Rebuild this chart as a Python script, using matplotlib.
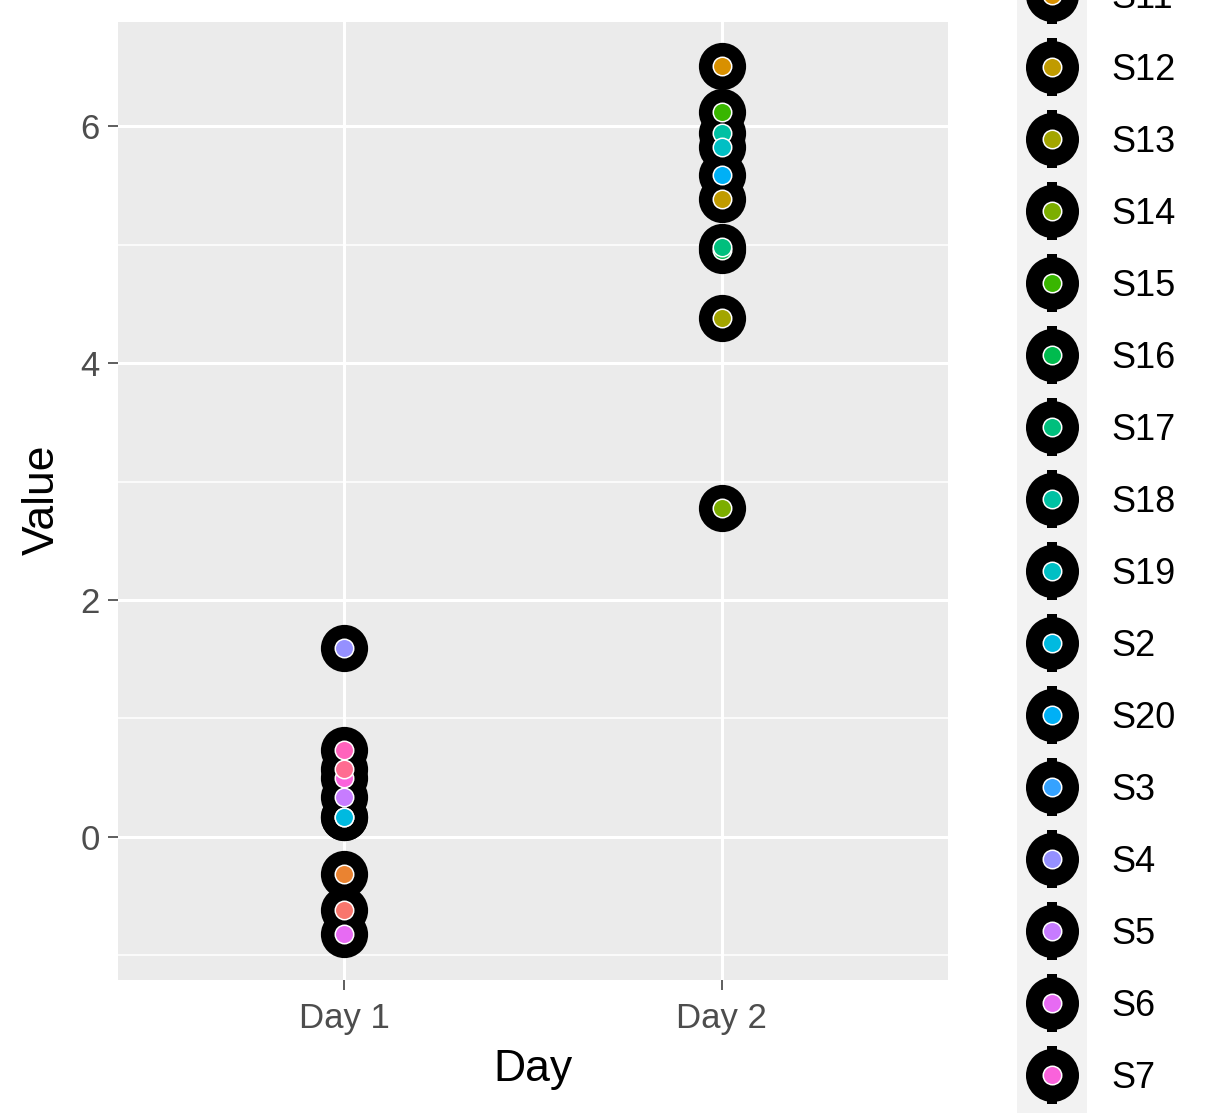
import matplotlib
matplotlib.use("Agg")
import matplotlib.pyplot as plt
from matplotlib.ticker import FixedLocator

plt.rcParams['font.family'] = ['Liberation Sans', 'DejaVu Sans']

# ---------------- Data (listed in drawing order) ----------------
subjects = ["S3", "S7", "S1", "S2", "S4", "S5", "S6", "S8", "S9", "S10",
            "S11", "S12", "S13", "S14", "S15", "S16", "S17", "S18", "S19", "S20"]
days = ["Day 1"] * 10 + ["Day 2"] * 10
values = [0.17, 0.50, -0.62, 0.17, 1.595, 0.34, -0.82, 0.735, 0.575, -0.31,
          6.51, 5.38, 4.377, 2.78, 6.12, 4.95, 4.976, 5.943, 5.82, 5.586]

day_levels = ["Day 1", "Day 2"]
levels = sorted(subjects)  # S1, S10, S11, ... S2, S20, S3 ... S9

# ggplot hue palette, 20 levels
hue_pal = ["#F8766D", "#EA8331", "#D89000", "#C09B00", "#A3A500", "#7CAE00",
           "#39B600", "#00BB4E", "#00BF7D", "#00C1A3", "#00BFC4", "#00BAE0",
           "#00B0F6", "#35A2FF", "#9590FF", "#C77CFF", "#E76BF3", "#FA62DB",
           "#FF62BC", "#FF6C91"]
colors = dict(zip(levels, hue_pal))

# ---------------- Figure ----------------
W, H = 1224, 1113
fig = plt.figure(figsize=(W / 100, H / 100), dpi=100)
ax = fig.add_axes([118 / W, (H - 980) / H, 830 / W, 958 / H])
ax.set_facecolor("#EBEBEB")
for s in ax.spines.values():
    s.set_visible(False)

xpos = [day_levels.index(d) + 1 for d in days]

# black halo layer first, then coloured points on top
for x, y in zip(xpos, values):
    ax.plot(x, y, "o", ms=34, color="black", mew=0, zorder=3)
for x, y, s in zip(xpos, values, subjects):
    ax.plot(x, y, "o", ms=13.3, mfc=colors[s], mec="white", mew=1.1, zorder=4)

ax.set_xlim(0.4, 2.6)
ax.set_ylim(-1.207, 6.878)
ax.set_xticks([1, 2])
ax.set_xticklabels(day_levels)
ax.set_yticks([0, 2, 4, 6])
ax.yaxis.set_minor_locator(FixedLocator([-1, 1, 3, 5]))
ax.grid(True, which="major", color="white", lw=2.2)
ax.grid(True, which="minor", axis="y", color="white", lw=1.1)
ax.set_axisbelow(True)
ax.tick_params(which="major", length=7, width=1.1, color="#333333",
               labelsize=25, labelcolor="#4D4D4D", pad=6)
ax.tick_params(axis="x", pad=9)
ax.tick_params(which="minor", length=0)

ax.set_xlabel("Day", fontsize=32, va="center")
ax.xaxis.set_label_coords(0.5, (980 - 1070) / 958)
ax.set_ylabel("Value", fontsize=32, va="center")
ax.yaxis.set_label_coords((42 - 118) / 830, (980 - 500) / 958)

# ---------------- Legend (overflows the figure like the original) ----------------
top_px, key_h = -185, 72
lax = fig.add_axes([1017 / W, (H - (top_px + key_h * len(levels))) / H,
                    70 / W, key_h * len(levels) / H])
lax.set_facecolor("#F2F2F2")
lax.set_xlim(0, 1)
lax.set_ylim(len(levels) - 0.5, -0.5)
lax.set_xticks([])
lax.set_yticks([])
for s in lax.spines.values():
    s.set_visible(False)
for i, lev in enumerate(levels):
    lax.plot(0.5, i, "|", ms=42, mew=7.2, color="black", clip_on=False)
    lax.plot(0.5, i, "o", ms=38.2, color="black", mew=0, clip_on=False)
    lax.plot(0.5, i, "o", ms=13.3, mfc=colors[lev], mec="white", mew=1.1,
             clip_on=False)
    lax.text(94 / 70, i, lev, fontsize=26, va="center_baseline", ha="left",
             color="black", clip_on=False)

fig.savefig("out.png", dpi=100)
